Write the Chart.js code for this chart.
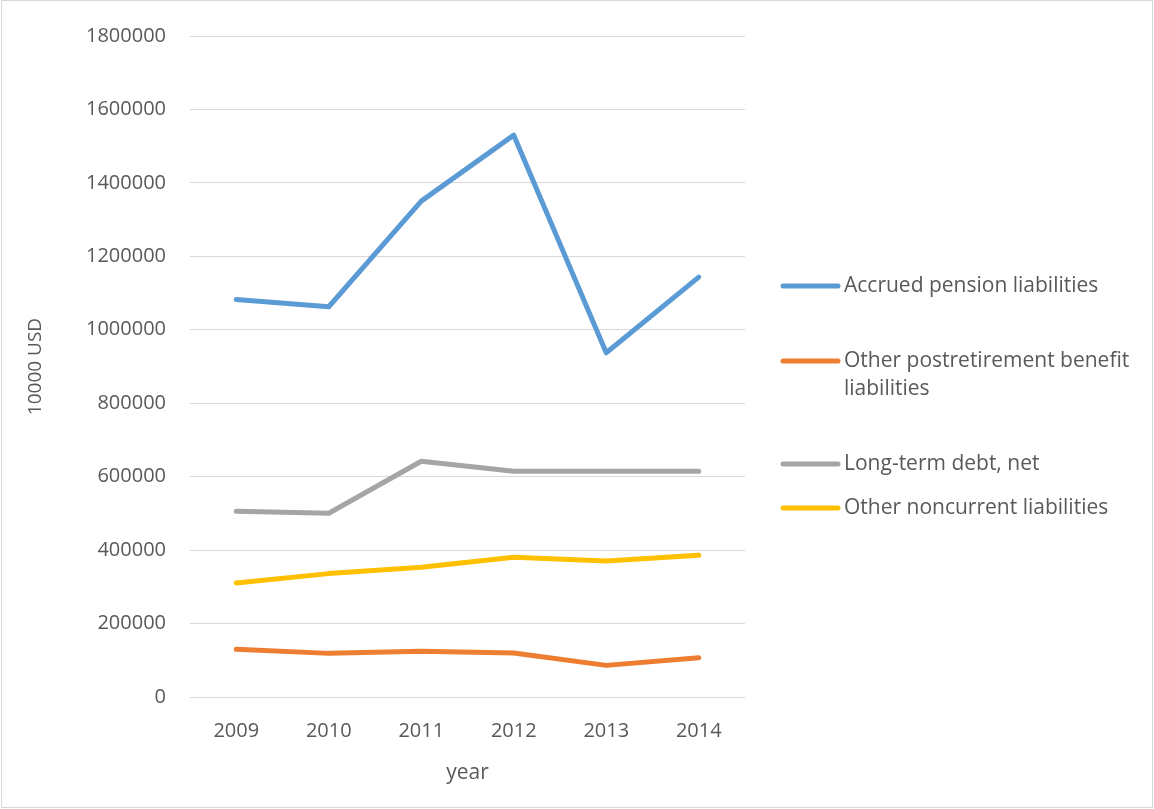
<!DOCTYPE html>
<html>
<head>
<meta charset="utf-8">
<script src="https://cdn.jsdelivr.net/npm/chart.js@4"></script>
<style>
  html, body { margin: 0; padding: 0; background: #fff; }
  #wrap { width: 1154px; height: 809px; position: relative; }
</style>
</head>
<body>
<div id="wrap"><canvas id="chart" width="1154" height="809"></canvas></div>
<script>
const years = ['2009', '2010', '2011', '2012', '2013', '2014'];

const accruedPension = [1082600, 1062700, 1350400, 1530000, 937300, 1143300];
const otherPostretirement = [129700, 118800, 124300, 119900, 86100, 107100];
const longTermDebt = [505700, 500300, 642000, 614700, 614700, 614700];
const otherNoncurrent = [310600, 336000, 353100, 380400, 370600, 385800];

const yTicks = [0, 200000, 400000, 600000, 800000, 1000000, 1200000, 1400000, 1600000, 1800000];

const TEXT = '#595959';
const FONT = "'Open Sans', sans-serif";

function series(label, values, color) {
  return {
    label: label,
    data: values,
    borderColor: color,
    backgroundColor: color,
    borderWidth: 5,
    borderCapStyle: 'round',
    borderJoinStyle: 'round',
    pointRadius: 0,
    pointHoverRadius: 0,
    tension: 0,
    fill: false
  };
}

// legend on the right side, drawn by hand so long labels can wrap
const sideLegend = {
  id: 'sideLegend',
  afterDraw(chart, args, opts) {
    const ctx = chart.ctx;
    ctx.save();
    ctx.font = opts.fontSize + 'px ' + FONT;
    ctx.textBaseline = 'middle';
    chart.data.datasets.forEach((ds, i) => {
      const y = opts.rows[i];
      ctx.strokeStyle = ds.borderColor;
      ctx.lineWidth = 5;
      ctx.lineCap = 'round';
      ctx.beginPath();
      ctx.moveTo(opts.x, y);
      ctx.lineTo(opts.x + opts.lineLen, y);
      ctx.stroke();

      // simple word wrap
      const words = ds.label.split(' ');
      const lines = [];
      let cur = '';
      words.forEach(w => {
        const t = cur ? cur + ' ' + w : w;
        if (ctx.measureText(t).width > opts.maxWidth && cur) {
          lines.push(cur);
          cur = w;
        } else {
          cur = t;
        }
      });
      lines.push(cur);
      ctx.fillStyle = TEXT;
      lines.forEach((ln, k) => {
        ctx.fillText(ln, opts.x + opts.lineLen + opts.gap, y + k * opts.lineHeight);
      });
    });
    ctx.restore();
  }
};

const frame = {
  id: 'frame',
  beforeDraw(chart) {
    const ctx = chart.ctx;
    ctx.save();
    ctx.fillStyle = '#fff';
    ctx.fillRect(0, 0, chart.width, chart.height);
    ctx.strokeStyle = '#d9d9d9';
    ctx.lineWidth = 1;
    ctx.strokeRect(1.5, 0.5, chart.width - 3, chart.height - 2);
    ctx.restore();
  }
};

const config = {
  type: 'line',
  data: {
    labels: years,
    datasets: [
      series('Accrued pension liabilities', accruedPension, '#5b9bd5'),
      series('Other postretirement benefit liabilities', otherPostretirement, '#ed7d31'),
      series('Long-term debt, net', longTermDebt, '#a5a5a5'),
      series('Other noncurrent liabilities', otherNoncurrent, '#ffc000')
    ]
  },
  options: {
    responsive: false,
    animation: false,
    layout: { padding: { left: 0, top: 36, right: 409, bottom: 0 } },
    plugins: {
      legend: { display: false },
      tooltip: { enabled: false },
      sideLegend: {
        x: 783, lineLen: 55, gap: 6, maxWidth: 300,
        rows: [286, 361, 464, 508], lineHeight: 28, fontSize: 21
      }
    },
    scales: {
      x: {
        offset: true,
        grid: { display: false, drawTicks: false },
        border: { display: false },
        ticks: { color: TEXT, font: { family: FONT, size: 20 }, padding: 22 },
        title: {
          display: true, text: 'year', color: TEXT,
          font: { family: FONT, size: 21 }, padding: { top: 0, bottom: 23 }
        },
        afterFit(scale) { scale.height = 809 - 697; }
      },
      y: {
        min: 0,
        max: 1800000,
        afterBuildTicks(scale) { scale.ticks = yTicks.map(v => ({ value: v })); },
        grid: { color: '#d9d9d9', lineWidth: 1, drawTicks: false },
        border: { display: false },
        ticks: {
          color: TEXT, font: { family: FONT, size: 20 }, padding: 24,
          callback: v => String(v)
        },
        title: {
          display: true, text: '10000 USD', color: TEXT,
          font: { family: FONT, size: 19 }, padding: { top: 24, bottom: 0 }
        },
        afterFit(scale) { scale.width = 190; }
      }
    }
  },
  plugins: [frame, sideLegend]
};

new Chart(document.getElementById('chart').getContext('2d'), config);
</script>
</body>
</html>
